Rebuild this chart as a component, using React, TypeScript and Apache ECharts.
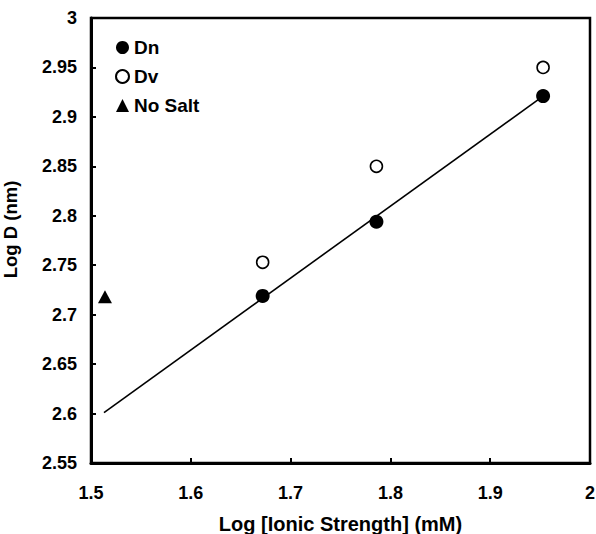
import React, { useEffect, useRef } from "react";
import * as echarts from "echarts";

const dnPoints: [number, number][] = [
  [1.672, 2.719],
  [1.786, 2.794],
  [1.953, 2.921],
];
const dvPoints: [number, number][] = [
  [1.672, 2.753],
  [1.786, 2.85],
  [1.953, 2.95],
];
const noSaltPoints: [number, number][] = [[1.514, 2.718]];
const fitLine: [number, number][] = [
  [1.513, 2.601],
  [1.953, 2.921],
];

const xTitle = "Log [Ionic Strength] (mM)";
const yTitle = "Log D (nm)";
const FONT = "Liberation Sans, Arial, Helvetica, sans-serif";

export default function App() {
  const ref = useRef<HTMLDivElement>(null);
  useEffect(() => {
    document.body.style.margin = "0";
    const chart = echarts.init(ref.current!, null, { renderer: "svg" });
    const fmt = (v: number) => String(parseFloat(v.toFixed(2)));
    chart.setOption({
      animation: false,
      backgroundColor: "#fff",
      textStyle: { fontFamily: FONT },
      grid: {
        left: 91,
        top: 18,
        right: 6,
        bottom: 71,
        show: true,
        borderColor: "#000",
        borderWidth: 2.5,
        containLabel: false,
        outerBoundsMode: "none",
      },
      legend: {
        orient: "vertical",
        left: 110,
        top: 33,
        itemWidth: 13,
        itemHeight: 13,
        itemGap: 10,
        textStyle: { fontSize: 19, fontWeight: "bold", color: "#000", fontFamily: FONT, lineHeight: 19 },
        data: ["Dn", "Dv", "No Salt"],
      },
      xAxis: {
        type: "value",
        min: 1.5,
        max: 2,
        interval: 0.1,
        name: xTitle,
        nameLocation: "middle",
        nameGap: 51,
        nameTextStyle: { fontSize: 20, fontWeight: "bold", color: "#000", fontFamily: FONT },
        axisLine: { show: true, lineStyle: { color: "#000", width: 3 } },
        axisTick: { show: true, inside: true, length: 5, lineStyle: { color: "#000", width: 2 } },
        axisLabel: { margin: 21, fontSize: 18, fontWeight: "bold", color: "#000", fontFamily: FONT, formatter: fmt },
        splitLine: { show: false },
      },
      yAxis: {
        type: "value",
        min: 2.55,
        max: 3,
        interval: 0.05,
        name: yTitle,
        nameLocation: "middle",
        nameGap: 71,
        nameTextStyle: { fontSize: 18.5, fontWeight: "bold", color: "#000", fontFamily: FONT, padding: [0, 0, 0, 22] },
        axisLine: { show: true, lineStyle: { color: "#000", width: 3 } },
        axisTick: { show: true, inside: true, length: 5, lineStyle: { color: "#000", width: 2 } },
        axisLabel: { margin: 14, fontSize: 18, fontWeight: "bold", color: "#000", fontFamily: FONT, formatter: fmt },
        splitLine: { show: false },
      },
      series: [
        {
          name: "Fit",
          type: "line",
          data: fitLine,
          showSymbol: false,
          symbol: "none",
          lineStyle: { color: "#000", width: 1.6 },
          z: 1,
        },
        {
          name: "Dn",
          type: "scatter",
          data: dnPoints,
          symbol: "circle",
          symbolSize: 14,
          itemStyle: { color: "#000", opacity: 1 },
          z: 3,
        },
        {
          name: "Dv",
          type: "scatter",
          data: dvPoints,
          symbol: "circle",
          symbolSize: 12,
          itemStyle: { color: "#fff", borderColor: "#000", borderWidth: 1.6, opacity: 1 },
          z: 3,
        },
        {
          name: "No Salt",
          type: "scatter",
          data: noSaltPoints,
          symbol: "triangle",
          symbolSize: [14, 13],
          itemStyle: { color: "#000", opacity: 1 },
          z: 3,
        },
      ],
    });
    return () => chart.dispose();
  }, []);
  return <div ref={ref} style={{ width: 596, height: 534 }} />;
}
